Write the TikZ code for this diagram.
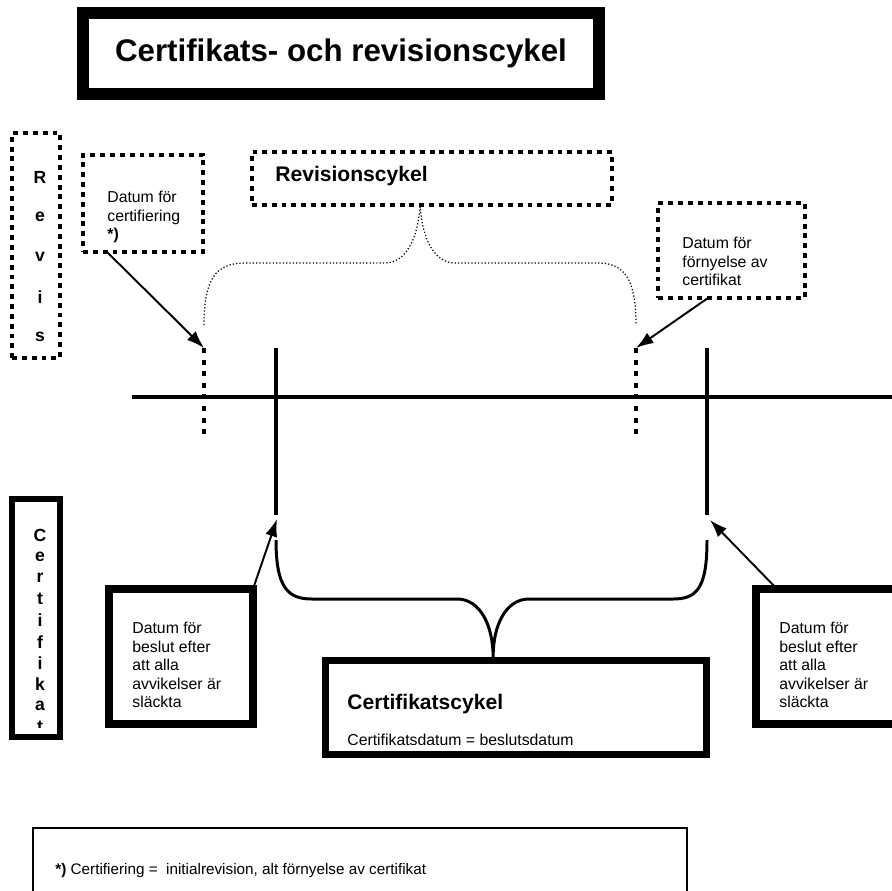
\documentclass[tikz,border=0pt]{standalone}
\usepackage{fontspec}
\setmainfont{Liberation Sans}
\usetikzlibrary{arrows.meta}
\usetikzlibrary{calc}
\tikzset{>={Latex[length=10pt,width=7pt]}}
\tikzstyle{dotbox}=[draw=black,line width=2.8pt,dash pattern=on 2.8pt off 2.8pt,inner sep=0pt,outer sep=0pt]
\tikzstyle{heavybox}=[draw=black,line width=4.5pt,inner sep=0pt,outer sep=0pt]
\tikzstyle{boxtext}=[font=\fontsize{9}{10.5}\selectfont,align=left,inner sep=0pt,anchor=north west]
\tikzstyle{pointer}=[->,draw=black,line width=1.1pt]
\tikzstyle{dateline}=[draw=black,line width=2.8pt]
\tikzstyle{dotdate}=[draw=black,line width=2.8pt,dash pattern=on 2.8pt off 3.8pt]
\tikzstyle{thindot}=[draw=black,line width=0.7pt,dash pattern=on 0.7pt off 1.2pt]
\tikzstyle{cyclebrace}=[draw=black,line width=1.7pt]
\tikzstyle{letter}=[font=\fontsize{10}{12}\selectfont\bfseries,inner sep=0pt]

\begin{document}
\begin{tikzpicture}[x=0.02cm,y=-0.02cm]
    \useasboundingbox (0,0) rectangle (892,890);
    \node[heavybox,line width=6.8pt,minimum width=10.32cm,minimum height=1.62cm,
      font=\fontsize{17.8}{20}\selectfont\bfseries] (title) at (341,53.5) {Certifikats- och revisionscykel};

    % side labels
    \node[dotbox,minimum width=0.96cm,minimum height=4.5cm] (revbox) at (36,245.5) {};
    \foreach \ch [count=\i] in {R,e,v,i,s}
    	\node[letter] (rev\i) at (40,{137+40*\i}) {\ch};
    \node[heavybox,line width=3.4pt,minimum width=0.96cm,minimum height=4.76cm] (certlbl) at (36,618) {};
    \begin{scope}
    	\clip (15,502) rectangle (57,727);
    	\foreach \ch [count=\i] in {C,e,r,t,i,f,i,k,a,t}
    		\node[letter] (cert\i) at (40,{514+21.3*\i}) {\ch};
    \end{scope}

    % revision boxes
    \node[dotbox,minimum width=2.4cm,minimum height=1.94cm] (certbox) at (143,203.5) {};
    \node[boxtext] (certtext) at (107,191) {Datum för\\certifiering\\\textbf{*)}};
    \node[dotbox,minimum width=7.2cm,minimum height=1.06cm] (cyclebox) at (432,178.5) {};
    \node[inner sep=0pt,anchor=base west,font=\fontsize{12}{14}\selectfont\bfseries] (cycletext) at (275,181) {Revisionscykel};
    \node[dotbox,minimum width=2.94cm,minimum height=1.9cm] (renewbox) at (731.5,250.5) {};
    \node[boxtext] (renewtext) at (682,237) {Datum för\\förnyelse av\\certifikat};

    % time line
    \coordinate (tlstart) at (132,397);
    \coordinate (tlend) at (900,397);
    \coordinate (v1top) at (276,348);
    \coordinate (v1bot) at (276,515);
    \coordinate (v2top) at (707,348);
    \coordinate (v2bot) at (707,515);
    \coordinate (d1top) at (204,348);
    \coordinate (d1bot) at (204,440);
    \coordinate (d2top) at (636,348);
    \coordinate (d2bot) at (636,440);
    \draw[dateline] (tlstart) -- (tlend);
    \draw[dateline] (v1top) -- (v1bot);
    \draw[dateline] (v2top) -- (v2bot);
    \draw[dotdate] (d1top) -- (d1bot);
    \draw[dotdate] (d2top) -- (d2bot);

    % revision brace
    \coordinate (rbraceL) at (204,325);
    \coordinate (rbraceR) at (636,325);
    \coordinate (rtip) at ($(cyclebox.south west)!0.467!(cyclebox.south east)$);
    \draw[thindot] (rbraceL) .. controls (204,280) and (215,263) .. (245,263) -- (385,263)
      .. controls (405,263) and (418,240) .. (rtip) .. controls (422,240) and (435,263) .. (455,263)
      -- (598,263) .. controls (625,263) and (636,280) .. (rbraceR);

    % decision boxes
    \node[heavybox,minimum width=2.88cm,minimum height=2.7cm] (lbox) at (181,656.5) {};
    \node[boxtext] (ltext) at (132,622) {Datum för\\beslut efter\\att alla\\avvikelser är\\släckta};
    \node[heavybox,minimum width=2.88cm,minimum height=2.7cm] (rbox) at (828,656.5) {};
    \node[boxtext] (rtext) at (779,622) {Datum för\\beslut efter\\att alla\\avvikelser är\\släckta};
    \node[heavybox,line width=4pt,minimum width=7.62cm,minimum height=1.88cm] (certcycle) at (516,707.5) {};
    \node[inner sep=0pt,anchor=base west,font=\fontsize{12}{14}\selectfont\bfseries] (certcycletext) at (347,709.6) {Certifikatscykel};
    \begin{scope}
    	\clip (330,730) rectangle (700,744);
    	\node[inner sep=0pt,anchor=base west,font=\fontsize{9}{10.5}\selectfont] (datetext) at (347,745) {Certifikatsdatum = beslutsdatum};
    \end{scope}

    % certificate brace
    \coordinate (cbraceL) at (276,540);
    \coordinate (cbraceR) at (707,540);
    \coordinate (ctip) at ($(certcycle.north west)!0.44!(certcycle.north east)+(0,-3.5)$);
    \draw[cyclebrace] (cbraceL) .. controls (276,588) and (288,599) .. (312,599) -- (457,599)
      .. controls (480,599) and (493,625) .. (ctip) .. controls (493,625) and (506,599) .. (529,599)
      -- (673,599) .. controls (697,599) and (707,588) .. (cbraceR);

    % pointers
    \coordinate (v1tip) at (277,519);
    \coordinate (v2tip) at (710,520);
    \draw[pointer] ($(certbox.south west)!0.2!(certbox.south east)$) -- (d1top);
    \draw[pointer] ($(renewbox.south west)!0.34!(renewbox.south east)$) -- (d2top);
    \draw[pointer] (lbox.north east) -- (v1tip);
    \draw[pointer] ($(rbox.north west)!0.146!(rbox.north east)$) -- (v2tip);

    % footnote
    \node[draw=black,line width=1.1pt,minimum width=13.08cm,minimum height=2.24cm,inner sep=0pt] (notebox) at (360,884) {};
    \node[inner sep=0pt,anchor=base west,font=\fontsize{8.7}{10.5}\selectfont] (notetext) at (55,874) {\textbf{*)} Certifiering =\ \ initialrevision, alt förnyelse av certifikat};
\end{tikzpicture}
\end{document}
